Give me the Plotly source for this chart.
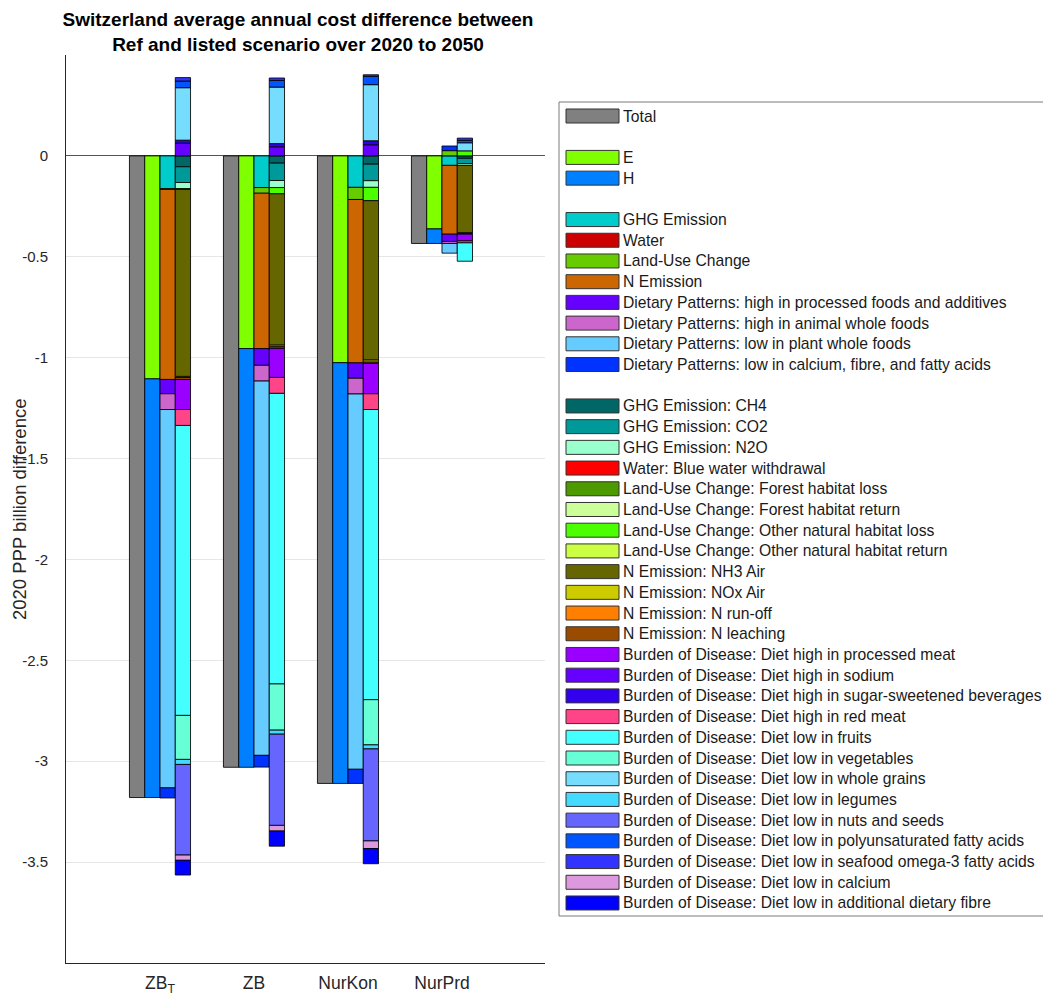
import plotly.graph_objects as go

# ---------------------------------------------------------------- data
scenarios = ["ZB<sub>T</sub>", "ZB", "NurKon", "NurPrd"]

# column 1: overall total
total = [-3.180, -3.030, -3.110, -0.434]

# column 2: environment / health split
e_total = [-1.105, -0.955, -1.025, -0.362]
h_total = [-2.075, -2.075, -2.085, -0.072]

# column 3: impact categories
ghg = [-0.162, -0.157, -0.156, -0.047]
water = [0.0, 0.0, 0.0, 0.0]
land_use = [-0.004, -0.028, -0.060, 0.026]
n_emission = [-0.942, -0.770, -0.810, -0.341]
dp_processed = [-0.071, -0.083, -0.076, -0.036]
dp_animal = [-0.078, -0.078, -0.078, -0.010]
dp_plant = [-1.875, -1.855, -1.860, -0.048]
dp_nutrients = [-0.050, -0.058, -0.070, 0.023]

# column 4: detailed components
ghg_ch4 = [-0.054, -0.036, -0.041, -0.012]
ghg_co2 = [-0.078, -0.086, -0.082, -0.026]
ghg_n2o = [-0.030, -0.035, -0.033, -0.009]
water_blue = [0.0, 0.0, 0.0, 0.0]
luc_forest_loss = [0.0, 0.0, 0.0, 0.0]
luc_forest_return = [0.0, 0.0, 0.0, 0.0]
luc_other_loss = [-0.004, -0.031, -0.066, 0.025]
luc_other_return = [0.0, 0.0, 0.0, 0.0]
n_nh3 = [-0.927, -0.750, -0.790, -0.334]
n_nox = [-0.005, -0.008, -0.010, -0.003]
n_runoff = [0.0, 0.0, 0.0, 0.0]
n_leaching = [-0.010, -0.008, -0.006, -0.004]
bod_processed_meat = [-0.149, -0.144, -0.151, -0.033]
bod_sodium = [0.063, 0.045, 0.055, 0.0]
bod_ssb = [0.015, 0.016, 0.020, 0.0]
bod_red_meat = [-0.079, -0.079, -0.078, -0.010]
bod_fruits = [-1.437, -1.440, -1.438, -0.091]
bod_vegetables = [-0.218, -0.229, -0.224, 0.0]
bod_whole_grains = [0.260, 0.280, 0.278, 0.040]
bod_legumes = [-0.025, -0.020, -0.020, 0.0]
bod_nuts = [-0.449, -0.452, -0.456, 0.0]
bod_pufa = [0.033, 0.033, 0.041, 0.012]
bod_omega3 = [0.017, 0.012, 0.008, 0.011]
bod_calcium = [-0.026, -0.028, -0.038, 0.0]
bod_fibre = [-0.073, -0.075, -0.075, 0.0]

y_ticks = [-3.5, -3.0, -2.5, -2.0, -1.5, -1.0, -0.5, 0.0]
y_tick_text = ["-3.5", "-3", "-2.5", "-2", "-1.5", "-1", "-0.5", "0"]

# (column, label, colour, values)
series = [
    (0, "Total", "#808080", total),
    (1, "E", "#80ff00", e_total),
    (1, "H", "#0080ff", h_total),
    (2, "GHG Emission", "#00cccc", ghg),
    (2, "Water", "#cc0000", water),
    (2, "Land-Use Change", "#66cc00", land_use),
    (2, "N Emission", "#cc6600", n_emission),
    (2, "Dietary Patterns: high in processed foods and additives", "#6600ff", dp_processed),
    (2, "Dietary Patterns: high in animal whole foods", "#cc66cc", dp_animal),
    (2, "Dietary Patterns: low in plant whole foods", "#66ccff", dp_plant),
    (2, "Dietary Patterns: low in calcium, fibre, and fatty acids", "#0033ff", dp_nutrients),
    (3, "GHG Emission: CH4", "#006666", ghg_ch4),
    (3, "GHG Emission: CO2", "#009999", ghg_co2),
    (3, "GHG Emission: N2O", "#99ffcc", ghg_n2o),
    (3, "Water: Blue water withdrawal", "#ff0000", water_blue),
    (3, "Land-Use Change: Forest habitat loss", "#4c9900", luc_forest_loss),
    (3, "Land-Use Change: Forest habitat return", "#ccff99", luc_forest_return),
    (3, "Land-Use Change: Other natural habitat loss", "#4cff00", luc_other_loss),
    (3, "Land-Use Change: Other natural habitat return", "#ccff44", luc_other_return),
    (3, "N Emission: NH3 Air", "#666600", n_nh3),
    (3, "N Emission: NOx Air", "#cccc00", n_nox),
    (3, "N Emission: N run-off", "#ff8000", n_runoff),
    (3, "N Emission: N leaching", "#994c00", n_leaching),
    (3, "Burden of Disease: Diet high in processed meat", "#9900ff", bod_processed_meat),
    (3, "Burden of Disease: Diet high in sodium", "#6600ff", bod_sodium),
    (3, "Burden of Disease: Diet high in sugar-sweetened beverages", "#3300ee", bod_ssb),
    (3, "Burden of Disease: Diet high in red meat", "#ff4488", bod_red_meat),
    (3, "Burden of Disease: Diet low in fruits", "#44ffff", bod_fruits),
    (3, "Burden of Disease: Diet low in vegetables", "#66ffd6", bod_vegetables),
    (3, "Burden of Disease: Diet low in whole grains", "#77ddff", bod_whole_grains),
    (3, "Burden of Disease: Diet low in legumes", "#44d9ff", bod_legumes),
    (3, "Burden of Disease: Diet low in nuts and seeds", "#6666ff", bod_nuts),
    (3, "Burden of Disease: Diet low in polyunsaturated fatty acids", "#0055ff", bod_pufa),
    (3, "Burden of Disease: Diet low in seafood omega-3 fatty acids", "#3333ff", bod_omega3),
    (3, "Burden of Disease: Diet low in calcium", "#dd99dd", bod_calcium),
    (3, "Burden of Disease: Diet low in additional dietary fibre", "#0000ff", bod_fibre),
]

# ---------------------------------------------------------------- geometry
FIG_W, FIG_H = 1043, 996
M_L, M_R, M_T, M_B = 66, 498, 55, 33
PLOT_W = FIG_W - M_L - M_R
PLOT_H = FIG_H - M_T - M_B

bar_w = 0.1625
col_offsets = [-1.5 * bar_w, -0.5 * bar_w, 0.5 * bar_w, 1.5 * bar_w]
FONT = "Liberation Sans, Arial, sans-serif"

fig = go.Figure()
for col, name, color, vals in series:
    fig.add_trace(go.Bar(
        x=[i + col_offsets[col] for i in range(len(scenarios))],
        y=[v if v != 0 else None for v in vals],
        width=bar_w,
        name=name,
        marker=dict(color=color, line=dict(color="rgba(0,0,0,0.85)", width=1)),
        showlegend=False,
        hovertemplate=name + ": %{y:.3f}<extra></extra>",
    ))


def px_x(px):
    return (px - M_L) / PLOT_W


def px_y(py):
    return 1 - (py - M_T) / PLOT_H


# ---------------------------------------------------------------- legend box
shapes = []
annotations = []
LEG_LEFT, LEG_TOP, LEG_BOTTOM, LEG_RIGHT = 559, 102, 916, 1060
ROW0, ROW_H = 116, 20.71
shapes.append(dict(type="rect", xref="paper", yref="paper",
                   x0=px_x(LEG_LEFT), x1=px_x(LEG_RIGHT),
                   y0=px_y(LEG_BOTTOM), y1=px_y(LEG_TOP),
                   line=dict(color="#7a7a7a", width=1), fillcolor="white", layer="below"))

row = 0
prev_col = 0
for col, name, color, vals in series:
    if col != prev_col:
        row += 1  # blank line between column groups
    prev_col = col
    cy = ROW0 + row * ROW_H
    shapes.append(dict(type="rect", xref="paper", yref="paper",
                       x0=px_x(566), x1=px_x(619), y0=px_y(cy + 7), y1=px_y(cy - 7),
                       line=dict(color="#333333", width=1), fillcolor=color))
    annotations.append(dict(xref="paper", yref="paper", x=px_x(621), y=px_y(cy),
                            xanchor="left", yanchor="middle", showarrow=False,
                            text=name, font=dict(family=FONT, size=15.7, color="#1a1a1a")))
    row += 1

# y-axis caption
annotations.append(dict(xref="paper", yref="paper", x=px_x(20), y=px_y(510),
                        xanchor="center", yanchor="middle", showarrow=False,
                        textangle=-90, text="2020 PPP billion difference",
                        font=dict(family=FONT, size=18.5, color="#262626")))

fig.update_layout(
    width=FIG_W, height=FIG_H,
    margin=dict(l=M_L, r=M_R, t=M_T, b=M_B, autoexpand=False),
    paper_bgcolor="white", plot_bgcolor="white",
    barmode="relative",
    font=dict(family=FONT, size=15, color="#262626"),
    title=dict(
        text="<b>Switzerland average annual cost difference between<br>"
             "Ref and listed scenario over 2020 to 2050</b>",
        x=298 / FIG_W, xanchor="center",
        y=1 - 26 / FIG_H, yanchor="middle",
        font=dict(family=FONT, size=19, color="#000000"),
    ),
    xaxis=dict(
        range=[-1.0, 4.096],
        tickvals=list(range(len(scenarios))), ticktext=scenarios,
        showgrid=False, zeroline=False,
        showline=True, linecolor="#262626", linewidth=1,
        ticks="", tickfont=dict(size=17.5, color="#262626"),
        ticklabelstandoff=4,
    ),
    yaxis=dict(
        range=[-4.0, 0.5],
        tickvals=y_ticks, ticktext=y_tick_text,
        showgrid=True, gridcolor="#e6e6e6", gridwidth=1,
        zeroline=True, zerolinecolor="#555555", zerolinewidth=1,
        showline=True, linecolor="#262626", linewidth=1,
        ticks="", tickfont=dict(size=15, color="#262626"),
        ticklabelstandoff=14,
    ),
    shapes=shapes,
    annotations=annotations,
)

fig.write_html("out.html")
